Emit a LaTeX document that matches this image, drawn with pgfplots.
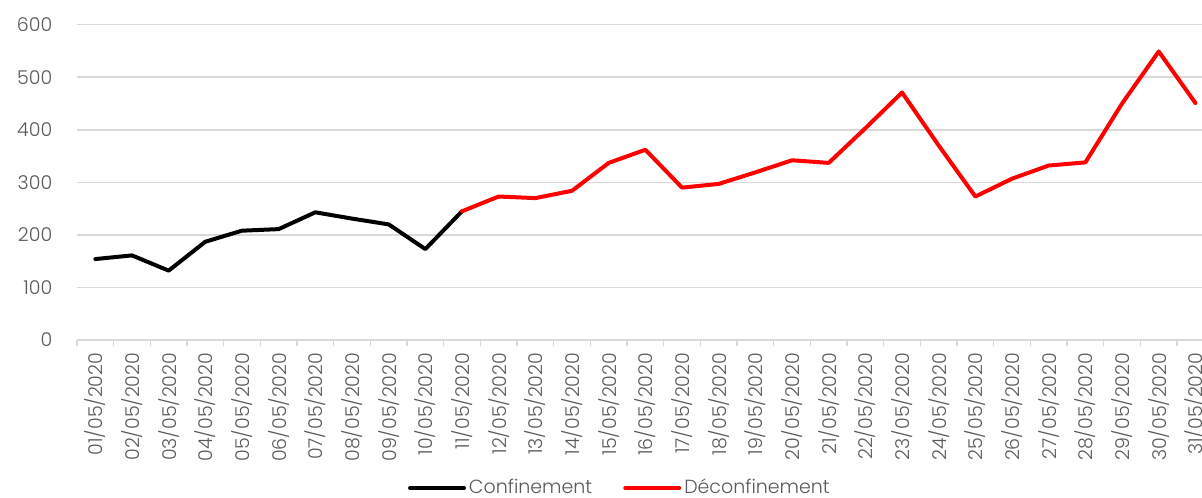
\documentclass[border=0pt]{standalone}
\usepackage{pgfplots}
\pgfplotsset{compat=1.18}
\usepackage{fontspec}
\setmainfont{Poppins Light}
\definecolor{txt}{HTML}{595959}
\definecolor{grd}{HTML}{D9D9D9}
\definecolor{myred}{HTML}{FF0000}
\begin{document}
\fontsize{9.5pt}{11pt}\selectfont
\begin{tikzpicture}
\begin{axis}[
  scale only axis, width=562.5pt, height=170pt,
  xmin=-0.5, xmax=30.18, ymin=0, ymax=647,
  axis x line=bottom, axis y line=left,
  axis line style={-, draw=grd, line width=0.75pt},
  y axis line style={draw=none},
  ytick={0,100,...,600},
  ymajorgrids, grid style={draw=grd, line width=0.75pt},
  xtick={0,...,30},
  xticklabels={01/05/2020,02/05/2020,03/05/2020,04/05/2020,05/05/2020,06/05/2020,07/05/2020,08/05/2020,09/05/2020,10/05/2020,11/05/2020,12/05/2020,13/05/2020,14/05/2020,15/05/2020,16/05/2020,17/05/2020,18/05/2020,19/05/2020,20/05/2020,21/05/2020,22/05/2020,23/05/2020,24/05/2020,25/05/2020,26/05/2020,27/05/2020,28/05/2020,29/05/2020,30/05/2020,31/05/2020},
  minor xtick={-0.5,0.5,...,29.5},
  major tick length=0pt, minor tick length=3pt,
  tick align=outside,
  tick style={draw=grd, line width=0.75pt},
  /pgf/number format/assume math mode=true,
  ticklabel style={text=txt, font=\fontsize{9.5pt}{11pt}\selectfont},
  yticklabel style={xshift=-9pt},
  xticklabel style={yshift=-3pt, rotate=90, anchor=east},
  legend columns=2,
  legend style={draw=none, at={(axis description cs:0.483,0)}, anchor=center, yshift=-74pt,
    font=\fontsize{9.5pt}{11pt}\selectfont, text=txt,
    /tikz/every even column/.append style={column sep=14pt},
    nodes={inner xsep=1.5pt, inner ysep=1pt}},
  legend image code/.code={\draw[#1, line width=2pt, line cap=round] (0pt,0pt) -- (27pt,0pt);},
]
\addplot[black, line width=2pt, line join=round, line cap=round] coordinates {
(0,154) (1,161) (2,132) (3,187) (4,208) (5,211) (6,243) (7,231) (8,220) (9,173) (10,245)};
\addlegendentry{Confinement}
\addplot[myred, line width=2pt, line join=round, line cap=round] coordinates {
(10,245) (11,273) (12,270) (13,284) (14,337) (15,362) (16,290) (17,297) (18,319) (19,342) (20,337) (21,403) (22,471) (23,370) (24,273) (25,307) (26,332) (27,338) (28,450) (29,549) (30,451)};
\addlegendentry{Déconfinement}
\coordinate (sw) at (rel axis cs:0,0);
\coordinate (ne) at (rel axis cs:1,1);
\end{axis}
\pgfresetboundingbox
\path ([xshift=-38.5pt,yshift=-79pt]sw) rectangle (ne);
\end{tikzpicture}
\end{document}
